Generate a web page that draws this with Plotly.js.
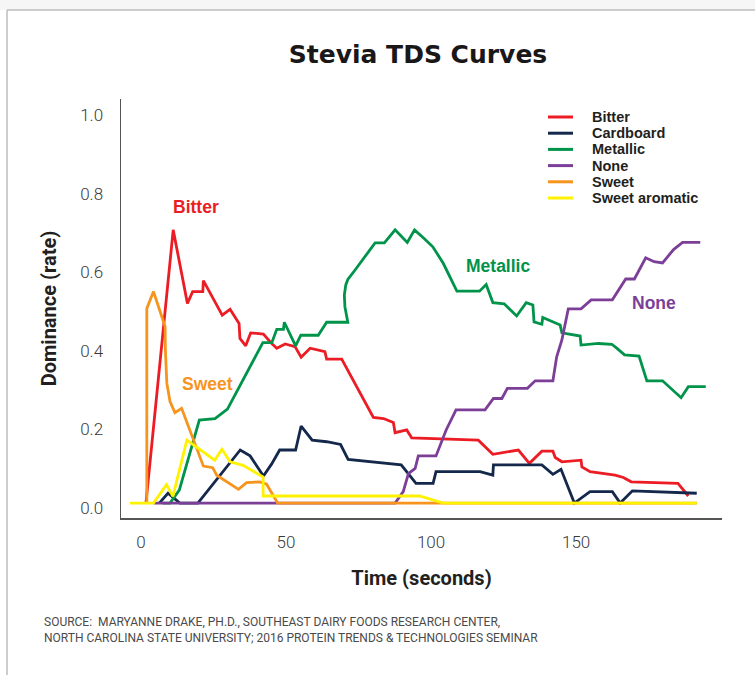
<!DOCTYPE html>
<html>
<head>
<meta charset="utf-8">
<script src="https://cdn.plot.ly/plotly-3.0.1.min.js"></script>
<style>
html,body{margin:0;padding:0;background:#fff;}
#chart{width:755px;height:675px;}
</style>
</head>
<body>
<div id="chart"></div>
<script>
// ---- data ----
const seriesNames = ["Bitter", "Cardboard", "Metallic", "None", "Sweet", "Sweet aromatic"];

const bitterT = [1.7, 11.1, 16.0, 17.8, 21.3, 21.5, 25.5, 28.0, 30.7, 33.8, 34.1, 36.1, 37.8, 42.2, 44.8, 46.8, 49.7, 53.1, 55.2, 58.3, 63.4, 64.0, 69.2, 80.1, 83.6, 87.0, 87.6, 91.6, 93.3, 116.3, 121.3, 130.1, 133.9, 138.2, 142.0, 142.8, 145.1, 151.7, 152.0, 154.8, 163.4, 166.3, 169.0, 185.1, 188.7];
const bitterV = [0, 0.695, 0.508, 0.538, 0.538, 0.566, 0.512, 0.478, 0.493, 0.457, 0.419, 0.40, 0.433, 0.43, 0.408, 0.394, 0.405, 0.398, 0.371, 0.394, 0.385, 0.366, 0.366, 0.218, 0.215, 0.205, 0.179, 0.186, 0.166, 0.160, 0.124, 0.135, 0.101, 0.132, 0.132, 0.116, 0.105, 0.109, 0.092, 0.080, 0.071, 0.065, 0.054, 0.050, 0.018];

const cardboardT = [6.3, 9.3, 13.4, 19.6, 34.2, 37.6, 42.2, 45.0, 47.8, 53.3, 55.2, 59.0, 64.0, 68.8, 71.4, 89.7, 94.8, 100.7, 101.7, 116.9, 121.3, 121.5, 138.2, 142.0, 144.8, 149.4, 154.8, 162.5, 165.2, 169.4, 191.6];
const cardboardV = [0, 0.025, 0, 0, 0.135, 0.12, 0.069, 0.099, 0.135, 0.135, 0.196, 0.160, 0.156, 0.149, 0.111, 0.097, 0.05, 0.05, 0.080, 0.080, 0.071, 0.097, 0.097, 0.073, 0.086, 0, 0.029, 0.029, 0, 0.031, 0.025];

const metallicT = [7.5, 10.0, 13.2, 20.1, 25.5, 29.8, 42.0, 45.1, 46.8, 49.1, 49.4, 53.3, 55.1, 61.1, 64.0, 71.3, 70.3, 70.1, 70.6, 71.3, 73.8, 80.7, 83.9, 87.6, 91.8, 94.3, 97.6, 100.6, 104.2, 108.9, 116.7, 119.0, 121.3, 125.2, 129.5, 132.8, 135.1, 135.5, 138.2, 138.5, 144.5, 145.1, 151.4, 151.7, 157.7, 162.3, 164.0, 166.7, 171.7, 174.4, 179.8, 186.2, 188.7, 194.7];
const metallicV = [0, 0, 0.033, 0.211, 0.215, 0.239, 0.408, 0.408, 0.442, 0.442, 0.460, 0.40, 0.427, 0.427, 0.460, 0.460, 0.499, 0.529, 0.555, 0.569, 0.593, 0.662, 0.662, 0.695, 0.663, 0.695, 0.673, 0.652, 0.61, 0.539, 0.539, 0.556, 0.51, 0.507, 0.476, 0.51, 0.504, 0.461, 0.455, 0.472, 0.453, 0.433, 0.425, 0.402, 0.406, 0.404, 0.394, 0.377, 0.374, 0.311, 0.311, 0.268, 0.296, 0.296];

const noneT = [4.3, 87.6, 90.4, 92.2, 94.5, 95.6, 101.7, 105.2, 108.6, 118.6, 121.5, 124.4, 126.3, 133.2, 135.9, 142.0, 143.3, 145.1, 147.3, 151.7, 155.2, 162.5, 167.1, 170.1, 174.0, 176.9, 179.8, 183.6, 186.7, 192.8];
const noneV = [0, 0, 0.029, 0.075, 0.088, 0.12, 0.12, 0.186, 0.237, 0.237, 0.266, 0.266, 0.292, 0.292, 0.311, 0.311, 0.372, 0.415, 0.494, 0.494, 0.517, 0.517, 0.570, 0.570, 0.624, 0.614, 0.611, 0.645, 0.663, 0.663];

const sweetT = [2.0, 2.0, 4.3, 8.3, 8.4, 8.9, 10.0, 11.7, 14.0, 21.5, 24.7, 26.1, 33.6, 36.4, 41.0, 43.3, 47.1, 191.6];
const sweetV = [0, 0.495, 0.538, 0.449, 0.389, 0.305, 0.258, 0.230, 0.241, 0.094, 0.090, 0.071, 0.035, 0.052, 0.054, 0.048, 0, 0];

const aromaticT = [-3.8, 4.3, 8.8, 11.0, 15.8, 25.4, 27.9, 30.7, 35.2, 42.1, 42.1, 96.0, 104.2, 191.6];
const aromaticV = [0, 0, 0.047, 0.017, 0.160, 0.109, 0.137, 0.105, 0.096, 0.066, 0.018, 0.018, 0, 0];

const xTicks = [0, 50, 100, 150];
const yTicks = [0, 0.2, 0.4, 0.6, 0.8, 1.0];
const yTickText = ["0.0", "0.2", "0.4", "0.6", "0.8", "1.0"];

// ---- styling ----
const colors = ["#ec1c24", "#14284b", "#00934a", "#7c3f98", "#f7941d", "#fff200"];
const xs = [bitterT, cardboardT, metallicT, noneT, sweetT, aromaticT];
const ys = [bitterV, cardboardV, metallicV, noneV, sweetV, aromaticV];

const traces = seriesNames.map((n, i) => ({
  type: "scatter", mode: "lines", name: n,
  x: xs[i], y: ys[i],
  line: {color: colors[i], width: 2.8},
  showlegend: false, hoverinfo: "skip"
}));

// pixel helpers for layout-only elements (plot area: x 121..722, y 99..518)
const L = 121, R = 722, T = 99, B = 518;
const px = v => (v - L) / (R - L);
const py = v => (B - v) / (B - T);

const shapes = [
  {type: "rect", xref: "paper", yref: "paper", x0: px(0), x1: px(755), y0: py(0), y1: py(10), fillcolor: "#f6f6f6", line: {width: 0}, layer: "below"},
  {type: "line", xref: "paper", yref: "paper", x0: px(7), x1: px(7), y0: py(10), y1: py(675), line: {color: "#bdbdbd", width: 1.5}},
  {type: "line", xref: "paper", yref: "paper", x0: px(7), x1: px(755), y0: py(10), y1: py(10), line: {color: "#bdbdbd", width: 1.5}}
];
const annotations = [];
const legFont = {family: "Liberation Sans, Arial, sans-serif", size: 14.5, color: "#231f20", weight: "bold"};
seriesNames.forEach((n, i) => {
  const yy = 117 + i * 16.2;
  shapes.push({type: "line", xref: "paper", yref: "paper", x0: px(548), x1: px(573), y0: py(yy), y1: py(yy), line: {color: colors[i], width: 3}});
  annotations.push({xref: "paper", yref: "paper", x: px(590), y: py(yy), xanchor: "left", yanchor: "middle", text: n, showarrow: false, font: legFont});
});

const lblFont = (c) => ({family: "Liberation Sans, Arial, sans-serif", size: 17.5, color: c, weight: "bold"});
annotations.push(
  {x: 18.8, y: 0.753, xref: "x", yref: "y", text: "Bitter", showarrow: false, font: lblFont(colors[0])},
  {x: 22.8, y: 0.303, xref: "x", yref: "y", text: "Sweet", showarrow: false, font: lblFont(colors[4])},
  {x: 123.1, y: 0.603, xref: "x", yref: "y", text: "Metallic", showarrow: false, font: lblFont(colors[2])},
  {x: 176.9, y: 0.509, xref: "x", yref: "y", text: "None", showarrow: false, font: lblFont(colors[3])},
  {xref: "paper", yref: "paper", x: px(42), y: py(630), xanchor: "left", yanchor: "middle", align: "left", showarrow: false,
   text: "SOURCE:  MARYANNE DRAKE, PH.D., SOUTHEAST DAIRY FOODS RESEARCH CENTER,<br>NORTH CAROLINA STATE UNIVERSITY; 2016 PROTEIN TRENDS &amp; TECHNOLOGIES SEMINAR",
   font: {family: "Roboto, sans-serif", size: 12, color: "#4a4a4a"}}
);

const layout = {
  width: 755, height: 675,
  paper_bgcolor: "#ffffff", plot_bgcolor: "#ffffff",
  margin: {l: L, r: 755 - R, t: T, b: 675 - B, pad: 0},
  title: {text: "Stevia TDS Curves", x: 418 / 755, xanchor: "center", xref: "container", y: 1 - 54 / 675, yanchor: "middle", yref: "container",
          font: {family: "DejaVu Sans, sans-serif", size: 25, weight: "bold", color: "#1a1718"}},
  xaxis: {range: [-6.9, 200.3], tickvals: xTicks, ticktext: xTicks.map(String), showgrid: false, zeroline: false,
          showline: true, linecolor: "#555", linewidth: 1.5, ticks: "", ticklabelstandoff: 8,
          tickfont: {family: "Roboto, sans-serif", size: 17, color: "#3a3a3a", weight: 300},
          title: {text: "Time (seconds)", standoff: 20, font: {family: "Roboto, sans-serif", size: 20, color: "#231f20", weight: "bold"}}},
  yaxis: {range: [-0.038, 1.028], tickvals: yTicks, ticktext: yTickText, showgrid: false, zeroline: false,
          showline: true, linecolor: "#555", linewidth: 1.5, ticks: "", ticklabelstandoff: 13, ticklabelshift: 5,
          tickfont: {family: "Roboto, sans-serif", size: 17, color: "#3a3a3a", weight: 300},
          title: {text: "Dominance (rate)", standoff: 18, font: {family: "Roboto, sans-serif", size: 20, color: "#231f20", weight: "bold"}}},
  shapes: shapes,
  annotations: annotations,
  showlegend: false
};

Plotly.newPlot("chart", traces, layout, {staticPlot: true, displayModeBar: false});
</script>
</body>
</html>
